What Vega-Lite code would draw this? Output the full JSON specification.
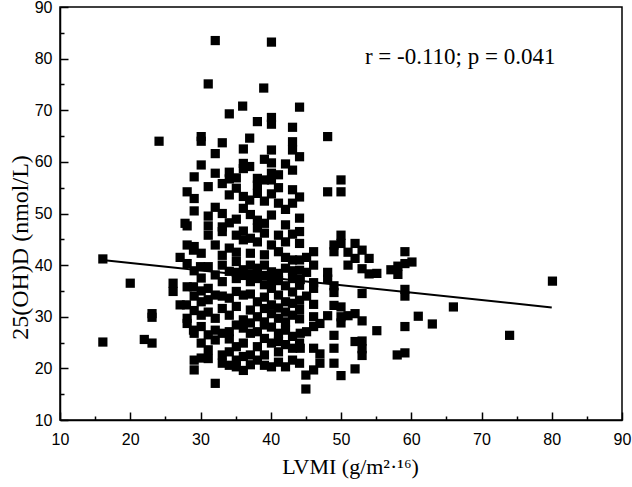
{
  "$schema": "https://vega.github.io/schema/vega-lite/v6.json",
  "width": 562,
  "height": 413,
  "autosize": {"type": "none"},
  "padding": {"left": 60, "top": 7, "right": 10, "bottom": 67},
  "background": "white",
  "config": {
    "view": {"stroke": "black", "strokeWidth": 1.5},
    "axis": {
      "grid": false,
      "domainColor": "black",
      "domainWidth": 1.5,
      "tickColor": "black",
      "tickWidth": 1.5,
      "labelFont": "Liberation Sans",
      "labelFontSize": 16,
      "labelColor": "black",
      "labelFlush": false,
      "labelOverlap": false,
      "labelBound": false,
      "titleFont": "Liberation Serif",
      "titleFontSize": 22,
      "titleFontWeight": "normal",
      "titleColor": "black"
    }
  },
  "datasets": {
    "pts": [
      {"lvmi":16.1,"vitd":41.2},{"lvmi":16.1,"vitd":25.1},{"lvmi":20.0,"vitd":36.5},{"lvmi":22.0,"vitd":25.6},{"lvmi":23.1,"vitd":24.9},{"lvmi":23.1,"vitd":30.6},{"lvmi":23.1,"vitd":29.9},{"lvmi":24.1,"vitd":64.0},
      {"lvmi":32.1,"vitd":83.5},{"lvmi":40.1,"vitd":83.2},{"lvmi":31.1,"vitd":75.1},{"lvmi":39.0,"vitd":74.3},{"lvmi":36.0,"vitd":70.8},{"lvmi":34.1,"vitd":69.3},{"lvmi":44.1,"vitd":70.6},
      {"lvmi":38.1,"vitd":67.8},{"lvmi":40.1,"vitd":68.6},{"lvmi":40.1,"vitd":67.3},{"lvmi":43.1,"vitd":66.7},{"lvmi":30.1,"vitd":64.9},{"lvmi":30.1,"vitd":64.0},{"lvmi":33.1,"vitd":63.7},{"lvmi":37.0,"vitd":64.6},{"lvmi":43.1,"vitd":63.9},{"lvmi":48.1,"vitd":64.9},
      {"lvmi":32.1,"vitd":61.6},{"lvmi":40.1,"vitd":62.3},{"lvmi":43.1,"vitd":62.3},{"lvmi":44.1,"vitd":61.0},{"lvmi":30.1,"vitd":59.4},{"lvmi":36.1,"vitd":59.7},{"lvmi":40.1,"vitd":59.8},{"lvmi":43.1,"vitd":58.4},
      {"lvmi":29.1,"vitd":57.1},{"lvmi":34.1,"vitd":58.0},{"lvmi":34.1,"vitd":56.7},{"lvmi":36.1,"vitd":58.7},{"lvmi":37.0,"vitd":59.1},{"lvmi":38.1,"vitd":56.8},{"lvmi":39.1,"vitd":56.5},{"lvmi":40.1,"vitd":56.5},{"lvmi":41.1,"vitd":57.5},{"lvmi":40.1,"vitd":57.8},
      {"lvmi":43.1,"vitd":54.6},{"lvmi":44.1,"vitd":53.2},{"lvmi":43.1,"vitd":52.0},{"lvmi":28.1,"vitd":54.2},{"lvmi":29.1,"vitd":52.9},{"lvmi":31.1,"vitd":55.2},{"lvmi":34.1,"vitd":53.6},{"lvmi":35.1,"vitd":54.9},{"lvmi":36.1,"vitd":53.3},{"lvmi":37.0,"vitd":52.6},{"lvmi":38.1,"vitd":53.9},{"lvmi":39.1,"vitd":52.4},
      {"lvmi":32.1,"vitd":51.2},{"lvmi":33.1,"vitd":50.0},{"lvmi":29.1,"vitd":50.5},{"lvmi":36.1,"vitd":51.0},{"lvmi":35.1,"vitd":48.9},{"lvmi":28.1,"vitd":47.6},{"lvmi":31.1,"vitd":47.6},{"lvmi":33.1,"vitd":47.4},{"lvmi":38.1,"vitd":48.7},{"lvmi":39.1,"vitd":48.1},{"lvmi":38.1,"vitd":47.2},{"lvmi":40.1,"vitd":49.7},{"lvmi":42.1,"vitd":47.8},{"lvmi":44.1,"vitd":49.1},
      {"lvmi":48.1,"vitd":54.2},{"lvmi":50.0,"vitd":54.2},{"lvmi":50.0,"vitd":56.5},
      {"lvmi":31.1,"vitd":45.8},{"lvmi":33.1,"vitd":46.5},{"lvmi":35.1,"vitd":45.8},{"lvmi":37.1,"vitd":45.2},{"lvmi":39.1,"vitd":46.2},{"lvmi":41.1,"vitd":45.8},{"lvmi":44.1,"vitd":46.5},
      {"lvmi":29.1,"vitd":43.6},{"lvmi":30.1,"vitd":42.3},{"lvmi":32.1,"vitd":43.9},{"lvmi":34.1,"vitd":43.3},{"lvmi":36.1,"vitd":44.9},{"lvmi":38.1,"vitd":44.5},{"lvmi":40.1,"vitd":43.9},{"lvmi":41.1,"vitd":42.6},{"lvmi":44.1,"vitd":44.2},{"lvmi":44.1,"vitd":41.0},
      {"lvmi":31.1,"vitd":39.7},{"lvmi":33.1,"vitd":40.0},{"lvmi":35.1,"vitd":40.7},{"lvmi":36.1,"vitd":39.1},{"lvmi":37.1,"vitd":40.0},{"lvmi":38.1,"vitd":39.4},{"lvmi":39.1,"vitd":40.0},{"lvmi":40.1,"vitd":38.7},{"lvmi":41.1,"vitd":38.4},{"lvmi":42.1,"vitd":39.4},{"lvmi":43.1,"vitd":37.4},
      {"lvmi":26.1,"vitd":36.5},{"lvmi":28.1,"vitd":35.8},{"lvmi":31.1,"vitd":35.5},{"lvmi":33.1,"vitd":36.8},{"lvmi":35.1,"vitd":37.4},{"lvmi":37.1,"vitd":36.8},{"lvmi":38.1,"vitd":37.4},{"lvmi":40.1,"vitd":35.5},{"lvmi":41.1,"vitd":34.2},{"lvmi":44.1,"vitd":36.1},
      {"lvmi":26.1,"vitd":34.9},{"lvmi":27.1,"vitd":32.3},{"lvmi":30.1,"vitd":32.9},{"lvmi":32.1,"vitd":34.2},{"lvmi":34.1,"vitd":33.6},{"lvmi":36.1,"vitd":34.2},{"lvmi":38.1,"vitd":32.9},{"lvmi":40.1,"vitd":32.3},{"lvmi":42.1,"vitd":32.9},{"lvmi":44.1,"vitd":33.2},
      {"lvmi":28.1,"vitd":29.7},{"lvmi":30.1,"vitd":30.3},{"lvmi":32.1,"vitd":29.7},{"lvmi":34.1,"vitd":30.3},{"lvmi":36.1,"vitd":29.4},{"lvmi":38.1,"vitd":30.0},{"lvmi":39.1,"vitd":29.0},{"lvmi":41.1,"vitd":29.7},{"lvmi":43.1,"vitd":30.3},
      {"lvmi":50.0,"vitd":45.8},{"lvmi":50.0,"vitd":44.2},{"lvmi":49.0,"vitd":43.9},{"lvmi":46.1,"vitd":42.6},{"lvmi":52.0,"vitd":44.2},{"lvmi":51.0,"vitd":42.5},{"lvmi":53.0,"vitd":42.9},{"lvmi":54.0,"vitd":41.3},{"lvmi":52.0,"vitd":41.3},{"lvmi":49.0,"vitd":42.6},{"lvmi":59.1,"vitd":42.6},
      {"lvmi":51.0,"vitd":40.0},{"lvmi":53.0,"vitd":39.3},{"lvmi":54.0,"vitd":38.3},{"lvmi":55.1,"vitd":38.4},{"lvmi":57.1,"vitd":39.1},{"lvmi":58.1,"vitd":39.8},{"lvmi":59.1,"vitd":40.3},{"lvmi":60.1,"vitd":40.6},{"lvmi":58.1,"vitd":38.2},
      {"lvmi":46.1,"vitd":40.0},{"lvmi":48.1,"vitd":38.6},{"lvmi":48.1,"vitd":37.3},{"lvmi":46.1,"vitd":36.6},{"lvmi":46.1,"vitd":35.5},{"lvmi":49.0,"vitd":36.0},{"lvmi":49.0,"vitd":34.7},{"lvmi":53.0,"vitd":34.5},{"lvmi":59.1,"vitd":35.3},{"lvmi":59.1,"vitd":34.0},{"lvmi":44.2,"vitd":37.2},
      {"lvmi":45.1,"vitd":34.0},{"lvmi":46.1,"vitd":32.4},{"lvmi":49.0,"vitd":32.2},{"lvmi":50.0,"vitd":31.9},{"lvmi":48.1,"vitd":30.2},{"lvmi":50.0,"vitd":30.0},{"lvmi":51.0,"vitd":30.2},{"lvmi":52.0,"vitd":30.6},{"lvmi":53.0,"vitd":29.2},{"lvmi":46.1,"vitd":30.0},{"lvmi":50.0,"vitd":28.8},
      {"lvmi":61.0,"vitd":30.1},{"lvmi":63.0,"vitd":28.6},{"lvmi":66.0,"vitd":31.9},{"lvmi":80.1,"vitd":36.9},{"lvmi":74.0,"vitd":26.4},{"lvmi":59.1,"vitd":28.1},{"lvmi":55.1,"vitd":27.3},
      {"lvmi":44.2,"vitd":26.8},{"lvmi":45.1,"vitd":27.1},{"lvmi":46.1,"vitd":28.1},{"lvmi":47.0,"vitd":28.7},{"lvmi":49.0,"vitd":26.4},
      {"lvmi":44.2,"vitd":23.9},{"lvmi":46.1,"vitd":23.9},{"lvmi":47.0,"vitd":22.8},{"lvmi":49.0,"vitd":23.9},{"lvmi":52.0,"vitd":25.2},{"lvmi":53.0,"vitd":25.3},{"lvmi":53.0,"vitd":23.8},{"lvmi":53.0,"vitd":22.5},
      {"lvmi":47.0,"vitd":21.0},{"lvmi":46.1,"vitd":19.7},{"lvmi":45.0,"vitd":18.7},{"lvmi":49.0,"vitd":21.0},{"lvmi":52.0,"vitd":19.9},{"lvmi":50.0,"vitd":18.6},{"lvmi":45.0,"vitd":16.0},{"lvmi":58.0,"vitd":22.6},{"lvmi":59.1,"vitd":23.0},
      {"lvmi":28.1,"vitd":28.7},{"lvmi":29.1,"vitd":26.8},{"lvmi":29.1,"vitd":21.6},{"lvmi":29.1,"vitd":19.7},{"lvmi":30.1,"vitd":24.9},{"lvmi":31.1,"vitd":23.6},{"lvmi":32.1,"vitd":17.1},{"lvmi":32.1,"vitd":27.4},{"lvmi":33.1,"vitd":26.8},{"lvmi":33.1,"vitd":22.6},{"lvmi":34.1,"vitd":23.2},{"lvmi":35.1,"vitd":21.6},{"lvmi":35.1,"vitd":24.2},{"lvmi":36.1,"vitd":24.9},{"lvmi":36.1,"vitd":27.8},{"lvmi":37.1,"vitd":26.8},{"lvmi":38.1,"vitd":24.2},{"lvmi":38.1,"vitd":21.6},{"lvmi":39.1,"vitd":22.6},{"lvmi":40.1,"vitd":20.3},{"lvmi":41.1,"vitd":23.2},{"lvmi":42.1,"vitd":20.3},{"lvmi":43.1,"vitd":23.9},{"lvmi":44.1,"vitd":24.9},{"lvmi":40.1,"vitd":24.9},{"lvmi":41.1,"vitd":26.8},{"lvmi":42.1,"vitd":27.4},{"lvmi":38.1,"vitd":27.1},{"lvmi":39.1,"vitd":28.4},{"lvmi":35.1,"vitd":28.4},{"lvmi":34.1,"vitd":27.1},{"lvmi":30.1,"vitd":28.1},{"lvmi":31.1,"vitd":26.5},{"lvmi":33.1,"vitd":21.0},{"lvmi":35.1,"vitd":20.3},{"lvmi":37.1,"vitd":22.6},
      {"lvmi":28.0,"vitd":32.3},{"lvmi":29.0,"vitd":27.4},{"lvmi":29.0,"vitd":35.8},{"lvmi":27.8,"vitd":48.1},{"lvmi":29.0,"vitd":42.9},{"lvmi":30.0,"vitd":39.7},
      {"lvmi":31.1,"vitd":30.9},{"lvmi":33.1,"vitd":31.6},{"lvmi":35.1,"vitd":32.0},{"lvmi":37.1,"vitd":31.3},{"lvmi":39.1,"vitd":31.6},{"lvmi":40.1,"vitd":30.6},{"lvmi":42.1,"vitd":30.9},{"lvmi":43.1,"vitd":32.6},{"lvmi":32.1,"vitd":25.5},{"lvmi":34.1,"vitd":25.7},{"lvmi":36.1,"vitd":22.3},{"lvmi":39.1,"vitd":25.8},{"lvmi":41.1,"vitd":25.2},{"lvmi":42.1,"vitd":24.6},{"lvmi":43.1,"vitd":26.2},{"lvmi":37.1,"vitd":20.7},{"lvmi":39.1,"vitd":20.6},{"lvmi":41.1,"vitd":21.2},{"lvmi":43.1,"vitd":21.6},{"lvmi":44.1,"vitd":21.0},{"lvmi":34.1,"vitd":20.6},{"lvmi":31.1,"vitd":21.9},{"lvmi":30.1,"vitd":22.0},{"lvmi":36.1,"vitd":19.6},
      {"lvmi":35.1,"vitd":38.6},{"lvmi":36.1,"vitd":38.0},{"lvmi":37.1,"vitd":38.3},{"lvmi":38.1,"vitd":38.6},{"lvmi":39.1,"vitd":38.0},{"lvmi":39.1,"vitd":36.2},{"lvmi":40.1,"vitd":37.0},{"lvmi":41.1,"vitd":37.0},{"lvmi":42.1,"vitd":36.0},{"lvmi":43.1,"vitd":38.9},{"lvmi":42.1,"vitd":41.5},{"lvmi":43.1,"vitd":41.0},{"lvmi":39.1,"vitd":42.0},{"lvmi":37.1,"vitd":42.3},{"lvmi":35.1,"vitd":42.5},{"lvmi":33.1,"vitd":41.9},{"lvmi":34.1,"vitd":38.8},{"lvmi":32.1,"vitd":38.1},{"lvmi":30.1,"vitd":37.5},{"lvmi":29.1,"vitd":38.9},{"lvmi":28.1,"vitd":40.3},{"lvmi":27.1,"vitd":41.5},{"lvmi":28.1,"vitd":43.9},{"lvmi":31.1,"vitd":49.5},{"lvmi":34.1,"vitd":48.2},{"lvmi":36.1,"vitd":46.6},{"lvmi":37.1,"vitd":49.8},{"lvmi":42.1,"vitd":44.5},{"lvmi":43.1,"vitd":46.0},{"lvmi":42.1,"vitd":50.8},{"lvmi":41.1,"vitd":52.0},{"lvmi":40.1,"vitd":53.8},{"lvmi":41.1,"vitd":55.0},{"lvmi":38.1,"vitd":55.5},{"lvmi":35.1,"vitd":56.9},{"lvmi":33.1,"vitd":55.8},{"lvmi":32.1,"vitd":57.8},{"lvmi":36.1,"vitd":62.5},{"lvmi":39.1,"vitd":60.5},{"lvmi":42.1,"vitd":59.6},{"lvmi":37.1,"vitd":34.4},{"lvmi":39.1,"vitd":33.8},{"lvmi":41.1,"vitd":31.7},{"lvmi":35.1,"vitd":34.9},{"lvmi":33.1,"vitd":34.0},{"lvmi":31.1,"vitd":33.3},{"lvmi":29.1,"vitd":34.0},{"lvmi":29.1,"vitd":31.2},{"lvmi":30.1,"vitd":35.0},{"lvmi":37.1,"vitd":28.8},{"lvmi":40.1,"vitd":28.0},{"lvmi":42.1,"vitd":29.0},{"lvmi":44.1,"vitd":29.6},{"lvmi":44.1,"vitd":31.4},{"lvmi":43.1,"vitd":34.8},{"lvmi":44.1,"vitd":39.0},{"lvmi":45.1,"vitd":38.6},{"lvmi":45.1,"vitd":41.5}
    ],
    "fit": [
      {"lvmi": 16, "vitd": 41.0},
      {"lvmi": 80, "vitd": 31.8}
    ],
    "note": [
      {"lvmi": 53.4, "vitd": 80.3, "label": "r = -0.110; p = 0.041"}
    ]
  },
  "layer": [
    {
      "data": {"name": "pts"},
      "mark": {"type": "point", "shape": "square", "filled": true, "color": "black", "opacity": 1, "size": 85},
      "encoding": {
        "x": {"field": "lvmi", "type": "quantitative",
              "scale": {"domain": [10, 90], "nice": false, "zero": false},
              "axis": {"orient": "bottom", "values": [10,20,30,40,50,60,70,80,90], "tickSize": -8, "labelPadding": 19,
                       "title": "LVMI (g/m²·¹⁶)", "titleX": 290, "titleY": 46, "titleBaseline": "middle", "titleAlign": "center"}},
        "y": {"field": "vitd", "type": "quantitative",
              "scale": {"domain": [10, 90], "nice": false, "zero": false},
              "axis": {"orient": "left", "values": [10,20,30,40,50,60,70,80,90], "tickSize": -8, "labelPadding": 16,
                       "title": "25(OH)D (nmol/L)", "titleFontSize": 24, "titleX": -40, "titleY": 240, "titleAngle": 270, "titleBaseline": "middle", "titleAlign": "center"}}
      }
    },
    {
      "data": {"name": "fit"},
      "mark": {"type": "line", "color": "black", "strokeWidth": 2},
      "encoding": {
        "x": {"field": "lvmi", "type": "quantitative",
              "axis": {"orient": "bottom", "values": [15,25,35,45,55,65,75,85], "tickSize": -4, "labels": false, "domain": false, "title": null}},
        "y": {"field": "vitd", "type": "quantitative",
              "axis": {"orient": "left", "values": [15,25,35,45,55,65,75,85], "tickSize": -4, "labels": false, "domain": false, "title": null}}
      }
    },
    {
      "data": {"name": "note"},
      "mark": {"type": "text", "align": "left", "baseline": "middle", "font": "Liberation Serif", "fontSize": 23, "color": "black"},
      "encoding": {
        "x": {"field": "lvmi", "type": "quantitative", "axis": null},
        "y": {"field": "vitd", "type": "quantitative", "axis": null},
        "text": {"field": "label"}
      }
    }
  ],
  "resolve": {"axis": {"x": "independent", "y": "independent"}}
}
